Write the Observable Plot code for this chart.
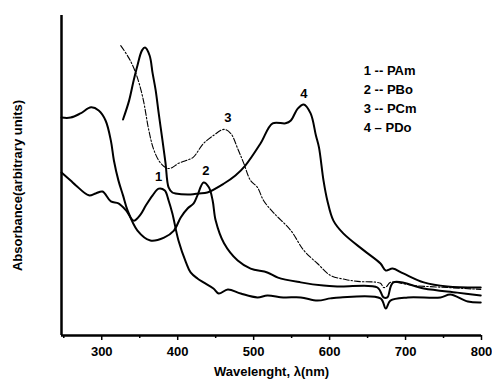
<!DOCTYPE html>
<html><head><meta charset="utf-8">
<script src="https://cdn.jsdelivr.net/npm/d3@7"></script>
<script src="https://cdn.jsdelivr.net/npm/@observablehq/plot@0.6"></script>
<style>body{margin:0;background:#fff;} #chart svg{display:block;} #chart svg text{font-weight:bold !important;}</style>
</head><body><div id="chart"></div>
<script>
const xDomain = [247, 800];
const yDomain = [0, 1];
const majorTicks = [300, 400, 500, 600, 700, 800];
const minorTicks = [250, 350, 450, 550, 650, 750];

const pamWl  = [247,259,266,283,292,301,312,322,332,342,351,358,367,375,383,388,393,401,411,417,426,434,447,454,466,483,505,518,539,562,584,601,614,667,674,680,703,746,759,782,799];
const pamAbs = [0.509,0.484,0.469,0.438,0.444,0.45,0.419,0.413,0.391,0.359,0.378,0.406,0.438,0.459,0.453,0.422,0.381,0.297,0.228,0.197,0.178,0.166,0.147,0.131,0.144,0.131,0.119,0.125,0.119,0.119,0.109,0.116,0.119,0.116,0.084,0.109,0.119,0.119,0.128,0.106,0.103];

const pboWl  = [247,259,272,286,296,305,312,316,322,328,334,347,364,382,395,404,413,421,426,434,441,446,450,461,479,496,518,532,562,592,614,663,671,676,684,724,768,799];
const pboAbs = [0.681,0.681,0.694,0.713,0.703,0.672,0.609,0.547,0.484,0.438,0.391,0.328,0.297,0.306,0.328,0.369,0.397,0.413,0.438,0.478,0.463,0.422,0.359,0.288,0.234,0.209,0.197,0.181,0.166,0.156,0.153,0.150,0.119,0.119,0.166,0.147,0.134,0.125];

const pcmWl  = [325,336,345,354,362,368,375,382,387,393,401,411,420,434,447,461,470,479,487,496,505,513,526,549,566,584,601,621,637,667,671,675,680,711,755,799];
const pcmAbs = [0.906,0.866,0.819,0.744,0.641,0.584,0.547,0.528,0.522,0.525,0.538,0.547,0.556,0.6,0.625,0.644,0.631,0.584,0.538,0.484,0.463,0.422,0.384,0.328,0.266,0.225,0.188,0.175,0.169,0.163,0.150,0.153,0.166,0.156,0.150,0.144];

const pdoWl  = [328,336,342,347,353,357,363,367,371,375,380,384,388,393,397,417,428,439,461,476,489,509,525,542,549,558,566,575,582,586,592,597,605,618,645,667,674,683,697,724,755,799];
const pdoAbs = [0.675,0.734,0.797,0.844,0.891,0.9,0.875,0.819,0.766,0.694,0.609,0.538,0.463,0.447,0.444,0.441,0.444,0.447,0.475,0.5,0.531,0.6,0.663,0.663,0.672,0.709,0.722,0.694,0.625,0.588,0.484,0.422,0.359,0.319,0.266,0.225,0.203,0.209,0.194,0.166,0.153,0.150];

const curveLabels = ["1", "2", "3", "4"];
const curveLabelWl = [375, 437, 466, 566];
const curveLabelAbs = [0.497, 0.516, 0.681, 0.756];

const legendText = ["1 -- PAm", "2 -- PBo", "3 -- PCm", "4 \u2013 PDo"];
const legendWl = [645, 645, 645, 645];
const legendAbs = [0.828, 0.769, 0.709, 0.650];

const xLabel = "Wavelenght, \u03bb(nm)";
const yLabel = "Absorbance(arbitrary units)";

const toRows = (wl, ab) => wl.map((w, i) => ({wl: w, abs: ab[i]}));
const pam = toRows(pamWl, pamAbs);
const pbo = toRows(pboWl, pboAbs);
const pcm = toRows(pcmWl, pcmAbs);
const pdo = toRows(pdoWl, pdoAbs);
const labels = curveLabels.map((t, i) => ({t, wl: curveLabelWl[i], abs: curveLabelAbs[i]}));
const legend = legendText.map((t, i) => ({t, wl: legendWl[i], abs: legendAbs[i]}));

const font = "Liberation Sans, Arial, sans-serif";

const chart = Plot.plot({
  width: 492,
  height: 384,
  marginLeft: 61,
  marginRight: 11,
  marginTop: 15,
  marginBottom: 49,
  style: {fontFamily: font, background: "#fff", color: "#000"},
  x: {domain: xDomain},
  y: {domain: yDomain, axis: null},
  marks: [
    Plot.axisX({ticks: minorTicks, tickSize: 3, text: null, label: null, strokeWidth: 1.5}),
    Plot.axisX({ticks: majorTicks, tickSize: 5, tickPadding: 6, label: null, fontSize: 13, fontWeight: "bold", strokeWidth: 1.5}),
    Plot.ruleY([yDomain[0]], {stroke: "#000", strokeWidth: 2.5}),
    Plot.ruleX([xDomain[0]], {y1: yDomain[0], y2: yDomain[1], stroke: "#000", strokeWidth: 2.5}),
    Plot.line(pam, {x: "wl", y: "abs", stroke: "#000", strokeWidth: 2, curve: "catmull-rom"}),
    Plot.line(pbo, {x: "wl", y: "abs", stroke: "#000", strokeWidth: 2, curve: "catmull-rom"}),
    Plot.line(pcm, {x: "wl", y: "abs", stroke: "#000", strokeWidth: 1.1, strokeDasharray: "6,2,1.5,2", curve: "catmull-rom"}),
    Plot.line(pdo, {x: "wl", y: "abs", stroke: "#000", strokeWidth: 2, curve: "catmull-rom"}),
    Plot.text(labels, {x: "wl", y: "abs", text: "t", fontSize: 13, fontWeight: "bold", fill: "#000"}),
    Plot.text(legend, {x: "wl", y: "abs", text: "t", textAnchor: "start", fontSize: 13, fontWeight: "bold", fill: "#000"}),
    Plot.text([xLabel], {frameAnchor: "bottom", text: d => d, dy: 40, fontSize: 13, fontWeight: "bold", fill: "#000"}),
    Plot.text([yLabel], {frameAnchor: "left", textAnchor: "middle", text: d => d, rotate: -90, dx: -44, dy: 10, fontSize: 13, fontWeight: "bold", fill: "#000"})
  ]
});
document.getElementById("chart").appendChild(chart);
</script>
</body></html>
